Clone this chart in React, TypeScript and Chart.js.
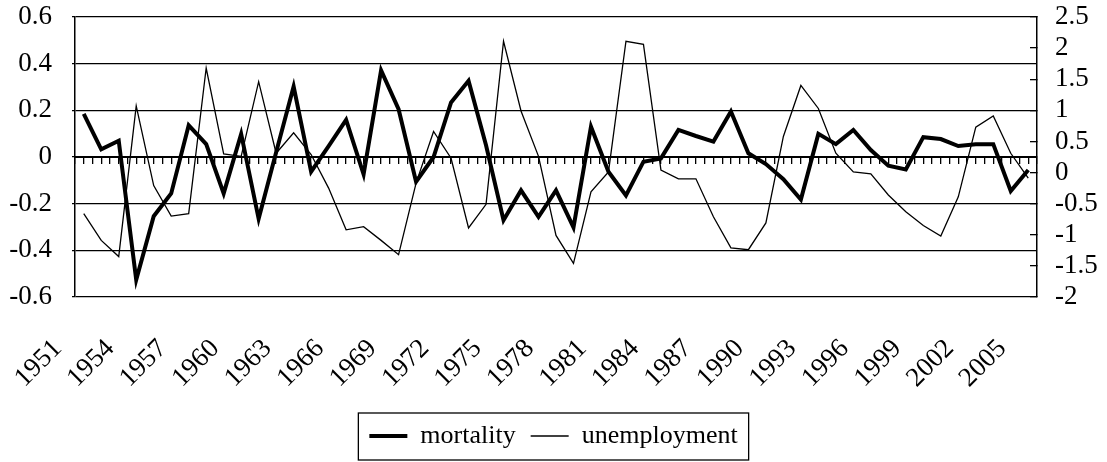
import React, { useEffect, useRef } from 'react';
import { Chart, registerables } from 'chart.js';

Chart.register(...registerables);

const years: string[] = [
  '1951', '1952', '1953', '1954', '1955', '1956', '1957', '1958', '1959', '1960',
  '1961', '1962', '1963', '1964', '1965', '1966', '1967', '1968', '1969', '1970',
  '1971', '1972', '1973', '1974', '1975', '1976', '1977', '1978', '1979', '1980',
  '1981', '1982', '1983', '1984', '1985', '1986', '1987', '1988', '1989', '1990',
  '1991', '1992', '1993', '1994', '1995', '1996', '1997', '1998', '1999', '2000',
  '2001', '2002', '2003', '2004', '2005',
];

const mortality: number[] = [
  0.185, 0.033, 0.07, -0.526, -0.254, -0.156, 0.136, 0.055, -0.156, 0.099,
  -0.265, 0.02, 0.302, -0.063, 0.047, 0.159, -0.074, 0.371, 0.205, -0.106,
  0.0, 0.234, 0.327, 0.05, -0.271, -0.143, -0.257, -0.143, -0.302, 0.13,
  -0.063, -0.165, -0.02, -0.006, 0.116, 0.09, 0.066, 0.195, 0.016, -0.03,
  -0.095, -0.182, 0.099, 0.055, 0.116, 0.03, -0.037, -0.053, 0.085, 0.077,
  0.047, 0.055, 0.055, -0.146, -0.056,
];

const unemployment: number[] = [
  -0.66, -1.09, -1.35, 1.07, -0.21, -0.7, -0.66, 1.68, 0.3, 0.26,
  1.46, 0.31, 0.64, 0.29, -0.25, -0.92, -0.87, -1.09, -1.32, -0.17,
  0.66, 0.23, -0.89, -0.51, 2.11, 0.99, 0.26, -1.01, -1.46, -0.31,
  0.01, 2.11, 2.06, 0.04, -0.1, -0.1, -0.71, -1.21, -1.24, -0.81,
  0.58, 1.4, 1.03, 0.31, 0.01, -0.02, -0.36, -0.63, -0.85, -1.02,
  -0.39, 0.73, 0.91, 0.31, -0.09,
];

const FONT_FAMILY = "'Liberation Serif', 'Times New Roman', serif";
const FONT_SIZE = 27;
const LEGEND_FONT_SIZE = 26;

const legendBorder = {
  id: 'legendBorder',
  afterDraw(chart: any) {
    const lg = chart.legend;
    if (!lg || !lg.legendHitBoxes || !lg.legendHitBoxes.length) return;
    const hb = lg.legendHitBoxes;
    const l = Math.min(...hb.map((h: any) => h.left)) - 11;
    const r = Math.max(...hb.map((h: any) => h.left + h.width)) + 11;
    const t = hb[0].top - 10;
    const b = hb[0].top + hb[0].height + 11;
    const ctx = chart.ctx;
    ctx.save();
    ctx.strokeStyle = '#000';
    ctx.lineWidth = 1.3;
    ctx.strokeRect(l, t, r - l, b - t);
    ctx.restore();
  },
};

const fmt = (v: any) => String(Math.round(Number(v) * 10) / 10);

export default function App() {
  const ref = useRef<HTMLCanvasElement | null>(null);
  useEffect(() => {
    if (!ref.current) return;
    const chart = new Chart(ref.current, {
      type: 'line',
      data: {
        labels: years,
        datasets: [
          {
            label: 'mortality',
            data: mortality,
            borderColor: '#000',
            backgroundColor: '#000',
            borderWidth: 4,
            pointRadius: 0,
            tension: 0,
            xAxisID: 'x',
            yAxisID: 'y',
          },
          {
            label: 'unemployment',
            data: unemployment,
            borderColor: '#000',
            backgroundColor: '#000',
            borderWidth: 1.3,
            pointRadius: 0,
            tension: 0,
            xAxisID: 'x',
            yAxisID: 'y2',
          },
        ],
      },
      options: {
        responsive: false,
        animation: false,
        layout: { padding: { top: 17, left: 0, right: 0, bottom: 3 } },
        plugins: {
          tooltip: { enabled: false },
          legend: {
            position: 'bottom',
            labels: {
              usePointStyle: true,
              pointStyle: 'line',
              pointStyleWidth: 38,
              padding: 15,
              color: '#000',
              font: { family: FONT_FAMILY, size: LEGEND_FONT_SIZE },
            },
          },
        },
        scales: {
          x: {
            type: 'category',
            position: 'bottom',
            offset: true,
            grid: { display: false },
            border: { display: false },
            ticks: {
              autoSkip: false,
              maxRotation: 45,
              minRotation: 45,
              color: '#000',
              labelOffset: -26,
              padding: 28,
              font: { family: FONT_FAMILY, size: FONT_SIZE },
              callback: (_v: any, i: number) => (i % 3 === 0 ? years[i] : ''),
            },
            afterFit: (s: any) => {
              s.height = 111;
            },
          },
          x2: {
            type: 'linear',
            axis: 'x',
            position: { y: 0 },
            min: -0.5,
            max: 54.5,
            grid: {
              display: true,
              drawOnChartArea: false,
              drawTicks: true,
              tickLength: 6,
              color: '#000',
              lineWidth: 1.3,
            },
            border: { display: true, color: '#000', width: 2 },
            ticks: { display: false, stepSize: 0.5 },
          },
          y: {
            type: 'linear',
            position: 'left',
            min: -0.6,
            max: 0.6,
            grid: {
              color: '#000',
              lineWidth: 1.3,
              tickLength: 3,
            },
            border: { display: true, color: '#000', width: 1.5 },
            ticks: {
              stepSize: 0.2,
              autoSkip: false,
              color: '#000',
              padding: 20,
              font: { family: FONT_FAMILY, size: FONT_SIZE },
              callback: (v: any) => fmt(v),
            },
            afterFit: (s: any) => {
              s.width = 75;
              s.paddingTop = 0;
              s.paddingBottom = 0;
            },
          },
          y2: {
            type: 'linear',
            position: 'right',
            min: -2,
            max: 2.5,
            grid: {
              drawOnChartArea: false,
              drawTicks: true,
              tickLength: -7,
              color: '#000',
              lineWidth: 1.3,
            },
            border: { display: true, color: '#000', width: 1.5 },
            ticks: {
              stepSize: 0.5,
              autoSkip: false,
              color: '#000',
              padding: 25,
              font: { family: FONT_FAMILY, size: FONT_SIZE },
              callback: (v: any) => fmt(v),
            },
            afterFit: (s: any) => {
              s.width = 70;
              s.paddingTop = 0;
              s.paddingBottom = 0;
            },
          },
        },
      } as any,
      plugins: [legendBorder],
    });
    return () => chart.destroy();
  }, []);

  return (
    <div style={{ position: 'absolute', left: 0, top: 0, width: 1107, height: 462, background: '#fff' }}>
      <canvas ref={ref} width={1107} height={462} />
    </div>
  );
}
